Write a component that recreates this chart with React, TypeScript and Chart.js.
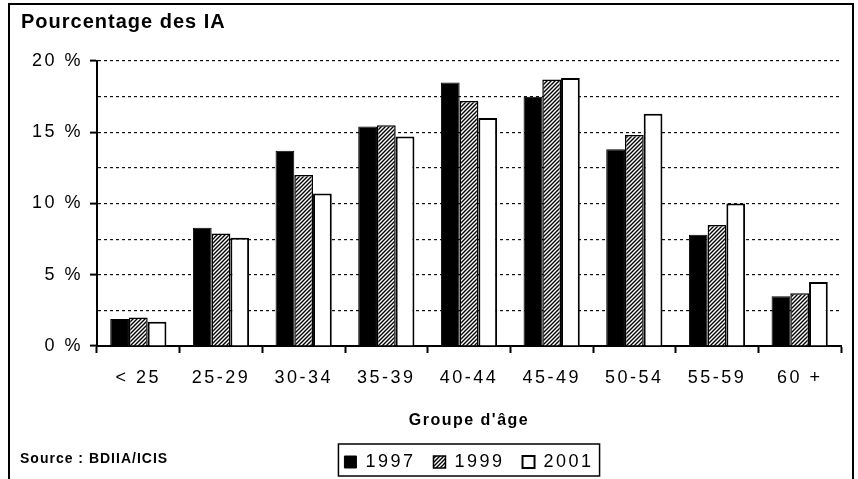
import React, { useEffect, useRef } from 'react';
import { Chart, registerables } from 'chart.js';

Chart.register(...registerables);

const FONT = "'Liberation Sans', Arial, Helvetica, sans-serif";

const titleText = 'Pourcentage des IA';
const xTitleText = "Groupe d'âge";
const sourceText = 'Source : BDIIA/ICIS';

const categories = ['< 25', '25-29', '30-34', '35-39', '40-44', '45-49', '50-54', '55-59', '60 +'];
const seriesLabels = ['1997', '1999', '2001'];
const values1997 = [1.9, 8.3, 13.7, 15.4, 18.5, 17.5, 13.8, 7.8, 3.5];
const values1999 = [2.0, 7.9, 12.0, 15.5, 17.2, 18.7, 14.8, 8.5, 3.7];
const values2001 = [1.7, 7.6, 10.7, 14.7, 16.0, 18.8, 16.3, 10.0, 4.5];
const yMin = 0;
const yMax = 20;
const yStep = 2.5;
const yLabelEvery = 5;

function makeHatch(ctx: CanvasRenderingContext2D): CanvasPattern | string {
  const p = document.createElement('canvas');
  p.width = 4;
  p.height = 4;
  const c = p.getContext('2d');
  if (!c) return '#666';
  c.fillStyle = '#fff';
  c.fillRect(0, 0, 4, 4);
  c.strokeStyle = '#000';
  c.lineWidth = 1.4;
  c.beginPath();
  c.moveTo(0, 4);
  c.lineTo(4, 0);
  c.moveTo(-1, 1);
  c.lineTo(1, -1);
  c.moveTo(3, 5);
  c.lineTo(5, 3);
  c.stroke();
  return ctx.createPattern(p, 'repeat') || '#666';
}

function patchSpacing(chart: any, obj: any, name: string, spacing: string) {
  if (!obj || obj['__sp_' + name]) return;
  const orig = obj[name];
  obj[name] = function (...args: any[]) {
    const c = chart.ctx as any;
    const prev = c.letterSpacing;
    c.letterSpacing = spacing;
    const r = orig.apply(this, args);
    c.letterSpacing = prev;
    return r;
  };
  obj['__sp_' + name] = true;
}

const TICK_SPACING = '2.5px';

const decorPlugin = {
  id: 'decor',
  beforeLayout(chart: any) {
    (chart.ctx as any).letterSpacing = TICK_SPACING;
  },
  afterLayout(chart: any) {
    patchSpacing(chart, chart.titleBlock, 'draw', '1px');
    patchSpacing(chart, chart.scales.x, 'drawTitle', '1.5px');
  },
  beforeDraw(chart: any) {
    (chart.ctx as any).letterSpacing = TICK_SPACING;
  },
  afterDraw(chart: any) {
    const ctx = chart.ctx as CanvasRenderingContext2D;
    ctx.save();
    ctx.strokeStyle = '#000';
    ctx.lineWidth = 2;
    ctx.strokeRect(9, 4, 844, 500);
    const lg = chart.legend;
    const hb = lg && lg.legendHitBoxes;
    if (hb && hb.length) {
      const last = hb[hb.length - 1];
      const x1 = hb[0].left - 6;
      const x2 = last.left + last.width + 6;
      const y1 = hb[0].top - 9;
      const y2 = hb[0].top + hb[0].height + 5;
      ctx.lineWidth = 1.5;
      ctx.strokeRect(x1, y1, x2 - x1, y2 - y1);
    }
    (ctx as any).letterSpacing = '1px';
    ctx.font = `bold 14px ${FONT}`;
    ctx.fillStyle = '#000';
    ctx.textAlign = 'left';
    ctx.textBaseline = 'alphabetic';
    ctx.fillText(sourceText, 20, 463);
    ctx.restore();
  },
};

export default function App() {
  const ref = useRef<HTMLCanvasElement>(null);

  useEffect(() => {
    const canvas = ref.current;
    if (!canvas) return;
    const ctx = canvas.getContext('2d');
    if (!ctx) return;
    const hatch = makeHatch(ctx);

    Chart.defaults.font.family = FONT;
    Chart.defaults.color = '#000';

    const chart = new Chart(canvas, {
      type: 'bar',
      data: {
        labels: categories,
        datasets: [
          {
            label: seriesLabels[0],
            data: values1997,
            backgroundColor: '#000',
            borderColor: '#000',
            borderWidth: 1,
            borderSkipped: 'bottom',
          },
          {
            label: seriesLabels[1],
            data: values1999,
            backgroundColor: hatch as any,
            borderColor: '#000',
            borderWidth: 1.5,
            borderSkipped: 'bottom',
          },
          {
            label: seriesLabels[2],
            data: values2001,
            backgroundColor: '#fff',
            borderColor: '#000',
            borderWidth: 2,
            borderSkipped: 'bottom',
          },
        ],
      },
      options: {
        responsive: false,
        animation: false,
        devicePixelRatio: 1,
        layout: { padding: { left: 21, right: 17, top: 0, bottom: 0 } },
        datasets: {
          bar: { categoryPercentage: 0.68, barPercentage: 1.0 },
        },
        scales: {
          x: {
            offset: true,
            grid: {
              offset: true,
              drawOnChartArea: false,
              drawTicks: true,
              tickLength: 7,
              color: '#000',
              tickWidth: 2,
            },
            border: { color: '#000', width: 2 },
            ticks: {
              padding: 14,
              font: { size: 18 },
              color: '#000',
              maxRotation: 0,
              autoSkip: false,
            },
            title: {
              display: true,
              text: xTitleText,
              font: { size: 16, weight: 'bold' },
              color: '#000',
              padding: { top: 8.8, bottom: 4.4 },
            },
          },
          y: {
            min: yMin,
            max: yMax,
            afterFit: (scale: any) => {
              scale.width = 76;
            },
            grid: {
              drawTicks: true,
              tickLength: 7,
              tickWidth: 2,
              lineWidth: 1.2,
              color: (c: any) => (c.tick && c.tick.value === 0 ? 'rgba(0,0,0,0)' : '#111'),
              tickColor: (c: any) =>
                c.tick && c.tick.value % yLabelEvery === 0 ? '#000' : 'rgba(0,0,0,0)',
            },
            border: { color: '#000', width: 2, dash: [3, 3] },
            ticks: {
              stepSize: yStep,
              padding: 7,
              font: { size: 18 },
              color: '#000',
              autoSkip: false,
              callback: (v: any) => (Number(v) % yLabelEvery === 0 ? `${v} %` : ''),
            },
          },
        },
        plugins: {
          title: {
            display: true,
            text: titleText,
            align: 'start',
            font: { size: 20, weight: 'bold' },
            color: '#000',
            padding: { top: 10, bottom: 27 },
          },
          legend: {
            position: 'bottom',
            fullSize: false,
            labels: {
              boxWidth: 12,
              boxHeight: 12,
              padding: 18,
              font: { size: 18 },
              color: '#000',
            },
          },
          tooltip: { enabled: false },
        },
      } as any,
      plugins: [decorPlugin as any],
    });

    return () => {
      chart.destroy();
    };
  }, []);

  return (
    <div
      style={{
        position: 'fixed',
        left: 0,
        top: 0,
        width: 858,
        height: 479,
        overflow: 'hidden',
        background: '#fff',
      }}
    >
      <canvas ref={ref} width={858} height={481} style={{ display: 'block' }} />
    </div>
  );
}
